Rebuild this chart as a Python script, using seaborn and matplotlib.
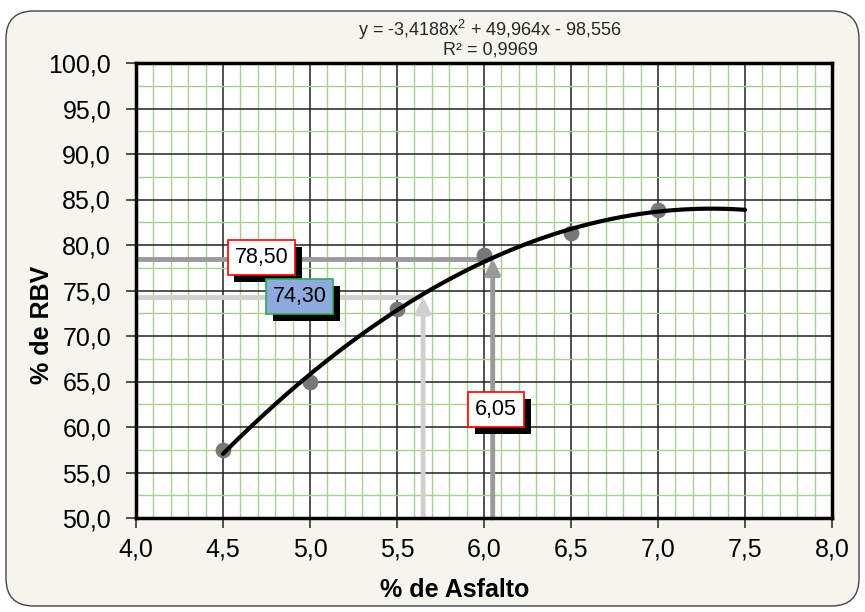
import numpy as np
import pandas as pd
import matplotlib
matplotlib.use("Agg")
import matplotlib.pyplot as plt
from matplotlib.patches import FancyBboxPatch
from matplotlib.ticker import MultipleLocator, FuncFormatter
import matplotlib.patheffects as pe
import seaborn as sns

# Data
asfalto = [4.5, 5.0, 5.5, 6.0, 6.5, 7.0]
rbv = [57.5, 65.0, 73.0, 78.9, 81.3, 83.8]
coef = [-3.4188, 49.964, -98.556]   # trendline shown in chart
fit_range = [4.5, 7.5]
eq_text = "y = -3,4188x$^2$ + 49,964x - 98,556\nR² = 0,9969"
target_rbv = [78.50, 74.30]
target_asf = [6.05, 5.65]
lbl_78 = "78,50"
lbl_74 = "74,30"
lbl_605 = "6,05"
xlabel = "% de Asfalto"
ylabel = "% de RBV"

sns.set_theme(style="white")
plt.rcParams['font.family'] = ['Liberation Sans', 'DejaVu Sans']
plt.rcParams['mathtext.fontset'] = 'custom'
plt.rcParams['mathtext.rm'] = 'Liberation Sans'

fig = plt.figure(figsize=(8.65, 6.12), dpi=100)
fig.patch.set_facecolor("white")
bg = FancyBboxPatch((6/865, 6/612), 853/865, 595/612, boxstyle="round,pad=0,rounding_size=0.032",
                    transform=fig.transFigure, facecolor="#F5F5EE", edgecolor="#444444",
                    linewidth=1.0, mutation_aspect=865/612, zorder=-10)
fig.patches.append(bg)

ax = fig.add_axes([136/865, 1 - 518/612, (832 - 136)/865, (518 - 63)/612])
ax.set_facecolor("white")

df = pd.DataFrame({"x": asfalto, "y": rbv})
xs = np.linspace(fit_range[0], fit_range[1], 200)
fit = pd.DataFrame({"x": xs, "y": np.polyval(coef, xs)})

ax.set_xlim(4.0, 8.0)
ax.set_ylim(50, 100)
ax.xaxis.set_major_locator(MultipleLocator(0.5))
ax.xaxis.set_minor_locator(MultipleLocator(0.1))
ax.yaxis.set_major_locator(MultipleLocator(5))
ax.yaxis.set_minor_locator(MultipleLocator(2.5))
ax.grid(which="minor", color="#A9D18E", linewidth=1.0, zorder=0)
ax.grid(which="major", color="#222222", linewidth=1.1, zorder=0.5)
ax.set_axisbelow(True)

fmt = FuncFormatter(lambda v, p: f"{v:.1f}".replace(".", ","))
ax.xaxis.set_major_formatter(fmt)
ax.yaxis.set_major_formatter(fmt)

# reference lines
c1 = "#9a9a9a"
c2 = "#d0d0d0"
ax.plot([4.0, target_asf[0]], [target_rbv[0], target_rbv[0]], color=c1, lw=3.5, zorder=2, solid_capstyle="butt")
ax.annotate("", xy=(target_asf[0], target_rbv[0]), xytext=(target_asf[0], 50),
            arrowprops=dict(arrowstyle="-|>,head_width=0.35,head_length=0.7", color=c1, lw=3.5, shrinkA=0, shrinkB=0), zorder=2)
ax.plot([4.0, target_asf[1]], [target_rbv[1], target_rbv[1]], color=c2, lw=3.5, zorder=2, solid_capstyle="butt")
ax.annotate("", xy=(target_asf[1], target_rbv[1]), xytext=(target_asf[1], 50),
            arrowprops=dict(arrowstyle="-|>,head_width=0.35,head_length=0.7", color=c2, lw=3.5, shrinkA=0, shrinkB=0), zorder=2)

sns.scatterplot(data=df, x="x", y="y", ax=ax, color="#777777", s=110, edgecolor="#777777", zorder=3)
sns.lineplot(data=fit, x="x", y="y", ax=ax, color="black", lw=3, zorder=4)

ax.set_xlabel(xlabel, fontsize=18, fontweight="bold", color="black", va="center")
ax.set_ylabel(ylabel, fontsize=18, fontweight="bold", color="black", va="center")
ax.xaxis.set_label_coords((455 - 136) / 696, (518 - 590) / 455)
ax.yaxis.set_label_coords((42 - 136) / 696, (518 - 325) / 455)
ax.tick_params(axis="both", which="major", labelsize=18, length=7, width=1.2, color="#333333",
               labelcolor="black", direction="out", left=True, bottom=True)
ax.tick_params(axis="y", which="major", pad=11)
ax.tick_params(axis="x", which="major", pad=7)
ax.tick_params(which="minor", length=0)
for s in ax.spines.values():
    s.set_color("black")
    s.set_linewidth(2.5)
    s.set_visible(True)

def label(x, y, text, face, edge):
    t = ax.text(x, y, text, fontsize=15.5, color="black",
                bbox=dict(boxstyle="square,pad=0.32", facecolor=face, edgecolor=edge, lw=1.2),
                zorder=6, ha="center", va="center")
    t.get_bbox_patch().set_path_effects([
        pe.SimplePatchShadow(offset=(5, -5), shadow_rgbFace="black", alpha=1.0),
        pe.Normal()])

label(4.72, 78.6, lbl_78, "white", "red")
label(4.94, 74.3, lbl_74, "#8FAADC", "#2EAA5A")
label(6.07, 61.95, lbl_605, "white", "red")

fig.text(490/865, 1 - 38/612, eq_text, ha="center", va="center", fontsize=13, linespacing=1.0)

fig.savefig("out.png", dpi=100, facecolor=fig.get_facecolor())
